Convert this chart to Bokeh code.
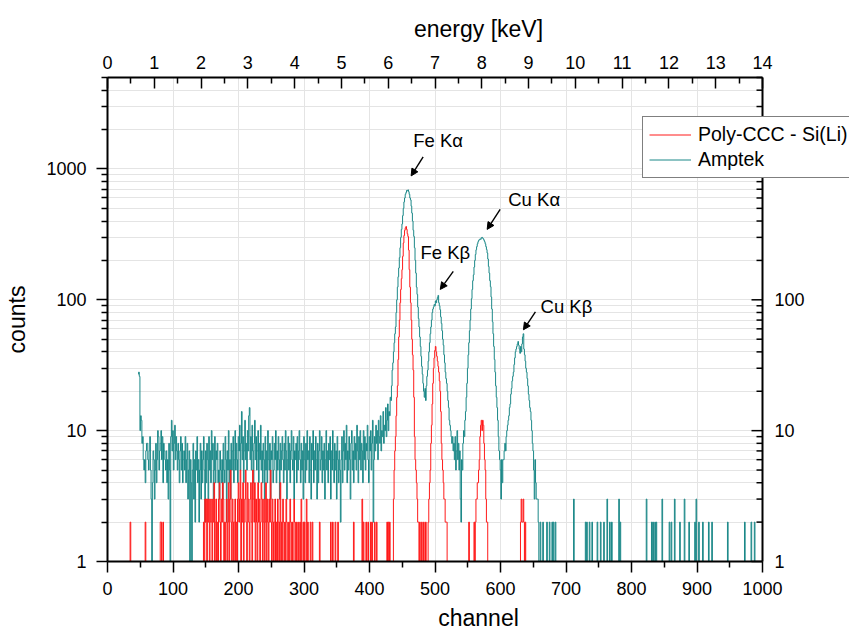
import math
from bokeh.plotting import figure
from bokeh.models import (Range1d, LinearAxis, FixedTicker, PrintfTickFormatter, BoxAnnotation,
                          Legend, LegendItem, Arrow, NormalHead, Label, Title, ColumnDataSource)
from bokeh.core.properties import value
from bokeh.embed import file_html
from bokeh.resources import INLINE

# ---------------- data (counts per channel) ----------------
amptek_start = 47
amptek_counts = [
    27, 28, 26, 10, 13, 12, 8, 9, 6, 5,          # 47
    6, 4, 7, 8, 8, 6, 5, 7, 9, 5,                # 57
    3, 0, 4, 7, 6, 3, 5, 8, 4, 6,                # 67
    10, 9, 5, 7, 8, 10, 6, 9, 4, 8,              # 77
    7, 6, 5, 7, 4, 6, 3, 8, 5, 0,                # 87
    9, 12, 7, 10, 5, 8, 11, 6, 9, 7,             # 97
    5, 8, 6, 4, 7, 9, 5, 8, 4, 6,                # 107
    7, 5, 9, 4, 6, 8, 3, 5, 7, 0,                # 117
    6, 4, 0, 5, 8, 3, 6, 2, 7, 5,                # 127
    9, 4, 6, 2, 5, 8, 3, 7, 4, 6,                # 137
    9, 5, 2, 7, 4, 8, 6, 3, 9, 5,                # 147
    7, 4, 10, 6, 8, 3, 5, 9, 4, 7,               # 157
    6, 8, 4, 5, 3, 7, 5, 4, 6, 3,                # 167
    8, 5, 4, 9, 6, 2, 7, 5, 10, 4,               # 177
    6, 3, 8, 5, 7, 9, 4, 6, 10, 5,               # 187
    8, 6, 4, 9, 7, 11, 5, 8, 14, 6,              # 197
    9, 4, 7, 12, 6, 8, 5, 10, 7, 13,             # 207
    15, 6, 9, 5, 11, 7, 4, 8, 12, 6,             # 217
    9, 5, 7, 10, 4, 8, 6, 11, 5, 7,              # 227
    4, 8, 6, 3, 9, 5, 7, 4, 10, 6,               # 237
    5, 8, 3, 7, 6, 9, 4, 5, 8, 6,                # 247
    10, 4, 7, 5, 9, 6, 3, 8, 5, 7,               # 257
    9, 6, 4, 8, 5, 10, 7, 3, 6, 9,               # 267
    5, 8, 4, 7, 10, 6, 5, 9, 3, 7,               # 277
    6, 8, 4, 9, 5, 7, 10, 6, 4, 8,               # 287
    5, 7, 3, 9, 6, 4, 8, 5, 10, 6,               # 297
    7, 4, 9, 5, 3, 8, 6, 10, 4, 7,               # 307
    5, 9, 6, 3, 8, 4, 7, 10, 5, 6,               # 317
    9, 4, 7, 5, 8, 3, 6, 10, 5, 7,               # 327
    4, 8, 6, 9, 3, 7, 5, 10, 6, 4,               # 337
    8, 5, 7, 3, 9, 6, 4, 7, 5, 2,                # 347
    6, 9, 4, 7, 10, 5, 8, 6, 11, 4,              # 357
    7, 5, 9, 6, 3, 8, 10, 5, 7, 4,               # 367
    9, 6, 8, 5, 11, 7, 4, 9, 6, 10,              # 377
    5, 8, 7, 4, 10, 6, 9, 5, 8, 7,               # 387
    11, 6, 4, 9, 7, 10, 5, 8, 12, 2,             # 397
    6, 9, 7, 11, 8, 10, 6, 12, 9, 8,             # 407
    13, 7, 10, 9, 14, 8, 11, 10, 15, 9,          # 417
    12, 16, 10, 14, 13, 18, 17, 22, 29, 33,      # 427
    40, 47, 55, 62, 80, 100, 125, 150, 175, 210, # 437
    250, 300, 345, 380, 440, 500, 560, 600, 640, 660,  # 447
    685, 680, 692, 670, 640, 600, 580, 520, 460, 400,  # 457
    340, 305, 250, 200, 160, 125, 110, 88, 72, 62,     # 467
    52, 44, 37, 31, 27, 23, 20, 18, 21, 17,      # 477
    22, 26, 29, 34, 40, 47, 55, 62, 70, 80,      # 487
    85, 88, 92, 90, 98, 95, 100, 104, 108, 95,   # 497
    90, 84, 74, 66, 58, 50, 45, 38, 33, 28,      # 507
    25, 23, 20, 17, 15, 12, 11, 10, 9, 8,        # 517
    9, 7, 8, 6, 9, 5, 7, 10, 6, 8,               # 527
    5, 7, 3, 2, 6, 5, 8, 10, 9, 12,              # 537
    14, 18, 23, 30, 38, 47, 58, 70, 85, 102,     # 547
    120, 140, 155, 178, 200, 222, 241, 255, 268, 278,  # 557
    285, 288, 292, 290, 298, 300, 296, 292, 285, 278,  # 567
    268, 255, 242, 228, 205, 180, 160, 140, 126, 105,  # 577
    85, 68, 55, 44, 35, 28, 22, 18, 15, 12,      # 587
    9, 7, 6, 5, 3, 6, 4, 6, 6, 7,                # 597
    8, 7, 9, 10, 11, 12, 13, 15, 16, 19,         # 607
    21, 24, 26, 28, 32, 36, 40, 42, 44, 46,      # 617
    48, 45, 42, 39, 44, 40, 46, 52, 55, 42,      # 627
    38, 34, 30, 28, 25, 22, 19, 17, 15, 14,      # 637
    12, 10, 8, 7, 5, 3, 6, 4, 3, 3,              # 647
    3, 2, 0, 0, 2, 0, 0, 0, 2, 0,                # 657
    0, 0, 0, 0, 2, 0, 0, 0, 2, 0,                # 667
    0, 0, 2, 0, 2, 0, 0, 2, 0, 0,                # 677
    0, 0, 0, 0, 0, 0, 0, 0, 0, 0,                # 687
    0, 0, 0, 0, 0, 0, 0, 0, 0, 0,                # 697
    0, 0, 0, 0, 0, 3, 0, 0, 0, 0,                # 707
    0, 0, 0, 0, 0, 0, 0, 0, 0, 0,                # 717
    0, 0, 0, 2, 0, 2, 0, 0, 0, 2,                # 727
    0, 0, 0, 2, 0, 0, 0, 0, 0, 0,                # 737
    0, 2, 0, 0, 0, 0, 2, 0, 0, 0,                # 747
    0, 2, 0, 0, 0, 0, 3, 0, 0, 0,                # 757
    2, 0, 0, 2, 0, 0, 0, 0, 0, 0,                # 767
    0, 0, 0, 0, 3, 0, 2, 0, 0, 0,                # 777
    0, 0, 0, 0, 0, 0, 0, 0, 0, 0,                # 787
    0, 0, 0, 0, 0, 0, 0, 0, 0, 0,                # 797
    0, 0, 0, 0, 0, 0, 0, 0, 0, 0,                # 807
    0, 0, 0, 0, 0, 0, 3, 0, 0, 0,                # 817
    0, 0, 0, 0, 2, 0, 2, 0, 0, 2,                # 827
    0, 2, 0, 0, 0, 0, 0, 0, 0, 0,                # 837
    3, 0, 0, 0, 0, 0, 0, 0, 0, 0,                # 847
    0, 2, 0, 0, 2, 0, 0, 0, 0, 3,                # 857
    0, 0, 0, 0, 0, 0, 0, 2, 0, 0,                # 867
    0, 0, 0, 0, 3, 0, 0, 0, 0, 0,                # 877
    0, 2, 0, 0, 0, 0, 0, 0, 0, 0,                # 887
    2, 0, 3, 0, 0, 0, 2, 0, 0, 0,                # 897
    0, 0, 2, 0, 0, 0, 0, 0, 0, 0,                # 907
    0, 2, 0, 0, 0, 0, 2, 0, 0, 0,                # 917
    0, 0, 0, 0, 0, 0, 0, 0, 0, 0,                # 927
    0, 0, 0, 0, 0, 0, 0, 0, 0, 0,                # 937
    2, 0, 0, 0, 0, 0, 0, 0, 0, 0,                # 947
    0, 0, 0, 0, 0, 0, 0, 0, 0, 0,                # 957
    0, 0, 0, 0, 0, 0, 2, 0, 0, 0,                # 967
    0, 0, 0, 0, 0, 0, 2, 0, 0, 0,                # 977
    0, 2, 0, 0, 0, 0, 0, 0, 0, 0,                # 987
    0, 0, 0,                                     # 997
]

sili_start = 30
sili_counts = [
    0, 0, 0, 0, 0, 2, 0, 0, 0, 0,                # 30
    0, 0, 0, 0, 0, 0, 0, 0, 0, 0,                # 40
    0, 0, 0, 0, 0, 0, 0, 0, 2, 0,                # 50
    0, 0, 0, 0, 0, 0, 0, 0, 0, 0,                # 60
    0, 0, 0, 0, 0, 0, 0, 0, 0, 0,                # 70
    0, 2, 2, 0, 0, 2, 0, 0, 0, 0,                # 80
    0, 0, 0, 0, 0, 0, 0, 0, 0, 0,                # 90
    0, 0, 0, 0, 0, 0, 0, 0, 0, 0,                # 100
    0, 0, 0, 0, 0, 0, 0, 0, 0, 0,                # 110
    0, 0, 0, 0, 0, 0, 0, 0, 0, 0,                # 120
    0, 0, 0, 0, 0, 0, 0, 0, 0, 0,                # 130
    0, 0, 0, 0, 0, 0, 0, 2, 0, 3,                # 140
    2, 3, 0, 3, 2, 3, 0, 2, 3, 2,                # 150
    0, 3, 2, 4, 0, 2, 3, 0, 2, 0,                # 160
    3, 4, 2, 0, 3, 2, 4, 3, 0, 2,                # 170
    0, 2, 3, 0, 2, 4, 0, 3, 5, 2,                # 180
    0, 3, 2, 0, 2, 3, 0, 2, 0, 3,                # 190
    4, 2, 3, 5, 0, 3, 2, 4, 0, 2,                # 200
    3, 5, 2, 0, 4, 3, 2, 0, 3, 4,                # 210
    2, 0, 5, 3, 2, 4, 0, 3, 2, 0,                # 220
    4, 2, 3, 0, 2, 4, 3, 0, 2, 3,                # 230
    0, 2, 4, 0, 3, 2, 0, 3, 2, 5,                # 240
    2, 0, 3, 2, 0, 2, 3, 0, 2, 0,                # 250
    3, 2, 0, 2, 4, 0, 2, 0, 3, 2,                # 260
    0, 2, 0, 3, 2, 0, 0, 2, 0, 3,                # 270
    2, 0, 2, 0, 0, 3, 2, 0, 2, 0,                # 280
    0, 2, 0, 0, 2, 0, 3, 0, 0, 2,                # 290
    0, 2, 0, 0, 3, 0, 2, 0, 0, 0,                # 300
    2, 0, 0, 2, 0, 0, 0, 0, 0, 0,                # 310
    0, 0, 0, 0, 2, 0, 0, 0, 0, 0,                # 320
    0, 0, 0, 0, 0, 0, 0, 0, 0, 0,                # 330
    0, 2, 0, 0, 2, 0, 0, 0, 2, 0,                # 340
    0, 0, 2, 0, 0, 0, 0, 0, 0, 0,                # 350
    0, 0, 0, 0, 0, 0, 0, 0, 0, 0,                # 360
    0, 0, 0, 0, 0, 0, 2, 0, 0, 0,                # 370
    0, 0, 0, 0, 0, 0, 0, 0, 0, 3,                # 380
    0, 2, 0, 0, 0, 2, 0, 0, 2, 0,                # 390
    0, 0, 2, 0, 2, 0, 0, 0, 2, 0,                # 400
    0, 2, 0, 0, 0, 0, 0, 0, 0, 0,                # 410
    0, 0, 0, 0, 0, 0, 0, 2, 0, 2,                # 420
    0, 2, 0, 0, 0, 0, 0, 3, 5, 7,                # 430
    9, 13, 18, 22, 35, 52, 70, 95, 120, 145,     # 440
    170, 215, 272, 310, 340, 355, 363, 345, 320, 305,  # 450
    240, 170, 125, 95, 70, 50, 38, 29, 18, 9,    # 460
    6, 5, 4, 3, 2, 2, 0, 2, 0, 0,                # 470
    2, 0, 0, 2, 0, 0, 2, 0, 0, 0,                # 480
    2, 3, 4, 5, 8, 11, 16, 23, 30, 36,           # 490
    41, 44, 40, 37, 34, 31, 28, 24, 20, 14,      # 500
    8, 6, 5, 4, 3, 3, 2, 2, 2, 0,                # 510
    0, 0, 0, 0, 0, 0, 0, 0, 0, 0,                # 520
    0, 0, 0, 0, 0, 0, 0, 0, 0, 0,                # 530
    0, 0, 0, 0, 0, 0, 0, 0, 0, 0,                # 540
    0, 0, 2, 0, 0, 0, 0, 0, 0, 0,                # 550
    2, 0, 2, 3, 3, 4, 4, 5, 6, 9,                # 560
    11, 12, 10, 12, 11, 8, 6, 5, 3, 2,           # 570
    2, 0, 0, 0, 0, 0, 0, 0, 0, 0,                # 580
    0, 0, 0, 0, 0, 0, 0, 0, 0, 0,                # 590
    0, 0, 0, 0, 0, 0, 0, 0, 0, 0,                # 600
    0, 0, 0, 0, 0, 0, 0, 0, 0, 0,                # 610
    0, 0, 0, 0, 0, 0, 0, 0, 0, 0,                # 620
    0, 2, 3, 2, 2, 3, 2, 0, 2, 0,                # 630
    0, 0, 0, 0, 0, 0, 0, 0, 0, 0,                # 640
]

series_names = ["Poly-CCC - Si(Li)", "Amptek"]
channel_ticks = [0, 100, 200, 300, 400, 500, 600, 700, 800, 900, 1000]
energy_ticks = [0, 1, 2, 3, 4, 5, 6, 7, 8, 9, 10, 11, 12, 13, 14]
count_ticks = [1, 10, 100, 1000]
peak_labels = ["Fe K\u03b1", "Fe K\u03b2", "Cu K\u03b1", "Cu K\u03b2"]
peak_windows = [(440, 480), (495, 515), (560, 590), (620, 645)]

# ---------------- layout / style constants ----------------
W, H = 849, 638
BL, BT, BB = 107, 77, 77
AXIS_W = 655                      # pixel width of the channel axis (0..1000)
X0, X1 = 0, 1000
Y0, Y1 = 1, 5000
PX_PER_CH = AXIS_W / (X1 - X0)
X_END = X1 + (W - BL - AXIS_W) / PX_PER_CH   # frame runs on to the window edge
FRAME_H = H - BT - BB
PX_PER_DEC = FRAME_H / (math.log10(Y1) - math.log10(Y0))
E_END = energy_ticks[-1] * X_END / X1
TITLE_SHIFT = AXIS_W / 2 - (W - BL) / 2      # centre axis titles on the drawn axis
FONT = "Liberation Sans"
TEAL = "#1b8888"
RED = "#ff1a1a"
GRID = "#e4e4e4"
FLOOR = 0.3  # zero counts drawn below the axis (clipped)

amptek_x = [amptek_start + i for i in range(len(amptek_counts))]
amptek_y = [c if c > 0 else FLOOR for c in amptek_counts]
sili_x = [sili_start + i for i in range(len(sili_counts))]
sili_y = [c if c > 0 else FLOOR for c in sili_counts]

p = figure(width=W, height=H, x_range=Range1d(X0, X_END), y_range=Range1d(Y0, Y1),
           y_axis_type="log", output_backend="svg", toolbar_location=None,
           min_border_left=BL, min_border_right=0, min_border_top=BT, min_border_bottom=BB)
p.outline_line_color = None
p.background_fill_color = "white"
p.border_fill_color = "white"

ch_minor = [t + 50 for t in channel_ticks[:-1]]
en_minor = [t + 0.5 for t in energy_ticks[:-1]]
cnt_minor = [m * d for d in (1, 10, 100, 1000) for m in range(2, 10) if m * d <= Y1]

x_ticker = FixedTicker(ticks=channel_ticks, minor_ticks=ch_minor)
y_ticker = FixedTicker(ticks=count_ticks, minor_ticks=cnt_minor)

def style_axis(ax, tick_in=False):
    ax.axis_line_color = "black"
    ax.axis_line_width = 2
    ax.major_tick_line_color = "black"
    ax.major_tick_line_width = 1.5
    ax.minor_tick_line_color = "black"
    ax.minor_tick_line_width = 1.5
    if tick_in:
        ax.major_tick_in, ax.major_tick_out = 11, 0
        ax.minor_tick_in, ax.minor_tick_out = 6, 0
    else:
        ax.major_tick_in, ax.major_tick_out = 0, 11
        ax.minor_tick_in, ax.minor_tick_out = 0, 6
    ax.major_label_text_font = FONT
    ax.major_label_text_font_size = "18px"
    ax.major_label_text_color = "black"
    ax.axis_label_text_font = FONT
    ax.axis_label_text_font_size = "23px"
    ax.axis_label_text_font_style = "normal"
    ax.axis_label_text_color = "black"

def axis_title(text, side, standoff):
    t = Title(text=text, align="center", offset=TITLE_SHIFT, standoff=standoff,
              text_font=FONT, text_font_size="23px", text_font_style="normal",
              text_color="black")
    p.add_layout(t, side)

xa = p.xaxis[0]
xa.ticker = x_ticker
xa.bounds = (X0, X1)
style_axis(xa)
xa.major_label_standoff = 9

ya = p.yaxis[0]
ya.ticker = y_ticker
ya.formatter = PrintfTickFormatter(format="%d")
ya.axis_label = "counts"
style_axis(ya)
ya.major_label_standoff = 10
ya.axis_label_standoff = 13

p.extra_x_ranges = {"energy": Range1d(energy_ticks[0], E_END)}
top = LinearAxis(x_range_name="energy",
                 ticker=FixedTicker(ticks=energy_ticks, minor_ticks=en_minor),
                 bounds=(energy_ticks[0], energy_ticks[-1]))
style_axis(top, tick_in=True)
top.major_label_standoff = 9
p.add_layout(top, "above")

axis_title("channel", "below", 11)
axis_title("energy [keV]", "above", 22)

p.xgrid.ticker = x_ticker
p.xgrid.grid_line_color = GRID
p.ygrid.ticker = y_ticker
p.ygrid.grid_line_color = GRID
p.ygrid.minor_grid_line_color = GRID

# blank the strip to the right of the channel axis (grid lines stop at channel 1000)
p.add_layout(BoxAnnotation(left=X1, fill_color="white", fill_alpha=1.0,
                           line_color=None, level="glyph"))

src_a = ColumnDataSource(dict(x=amptek_x, y=amptek_y))
src_s = ColumnDataSource(dict(x=sili_x, y=sili_y))
r_amptek = p.step("x", "y", source=src_a, mode="center", line_color=TEAL, line_width=1.0)
r_sili = p.step("x", "y", source=src_s, mode="center", line_color=RED, line_width=1.0)

# right-hand count axis at channel 1000 (ticks pointing inward)
p.segment(x0=[X1], y0=[Y0], x1=[X1], y1=[Y1], line_color="black", line_width=2, level="guide")
p.ray(x=[X1] * len(count_ticks), y=count_ticks, length=11, length_units="screen",
      angle=math.pi, line_color="black", line_width=1.5, level="guide")
p.ray(x=[X1] * len(cnt_minor), y=cnt_minor, length=6, length_units="screen",
      angle=math.pi, line_color="black", line_width=1.5, level="guide")
p.text(x=[X1] * len(count_ticks), y=count_ticks, text=[str(t) for t in count_ticks],
       x_offset=12, text_font=value(FONT), text_font_size="18px", text_color="black",
       text_align="left", text_baseline="middle", level="guide")

# ---------------- peak annotations ----------------
label_off = [(30, 49), (7, 43), (52, 38), (43, 27)]
arrow_off = [((15, 33), (3, 14)), ((15, 24), (2, 6)), ((18, 28), (5, 8)), ((12, 22), (0, 4))]

def shifted(ch, cnt, dx, dy):
    return ch + dx / PX_PER_CH, cnt * 10 ** (dy / PX_PER_DEC)

for lab, (lo, hi), (ldx, ldy), (aso, aeo) in zip(peak_labels, peak_windows, label_off, arrow_off):
    seg = amptek_counts[lo - amptek_start: hi - amptek_start + 1]
    k = max(range(len(seg)), key=lambda i: seg[i])
    pch, pcnt = lo + k, seg[k]
    p.add_layout(Label(x=pch, y=pcnt, x_offset=ldx, y_offset=ldy, text=lab,
                       text_font=FONT, text_font_size="18.5px", text_color="black",
                       text_align="center", text_baseline="middle"))
    xs, ys = shifted(pch, pcnt, *aso)
    xe, ye = shifted(pch, pcnt, *aeo)
    p.add_layout(Arrow(x_start=xs, y_start=ys, x_end=xe, y_end=ye, line_color="black",
                       line_width=1.4,
                       end=NormalHead(size=7, fill_color="black", line_color="black", line_width=1)))

legend = Legend(items=[LegendItem(label=series_names[0], renderers=[r_sili]),
                       LegendItem(label=series_names[1], renderers=[r_amptek])],
                location=(535, 383), orientation="vertical",
                label_text_font=FONT, label_text_font_size="19.5px", label_text_color="black",
                border_line_color="black", border_line_width=1.5,
                background_fill_color="white", background_fill_alpha=1.0,
                padding=6, spacing=2, margin=0, glyph_width=42, glyph_height=21,
                label_height=21, label_standoff=7)
p.add_layout(legend)

open("out.html", "w").write(file_html(p, INLINE))
